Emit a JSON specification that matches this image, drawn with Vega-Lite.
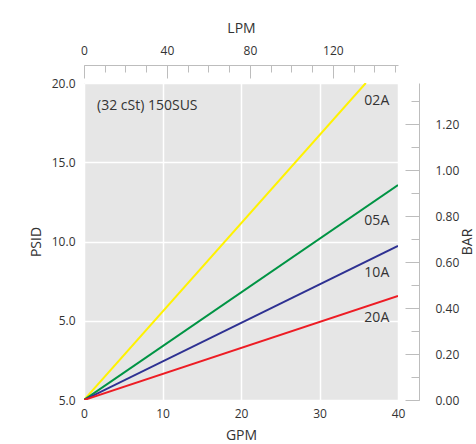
{
  "$schema": "https://vega.github.io/schema/vega-lite/v6.json",
  "width": 314,
  "height": 317,
  "autosize": "none",
  "padding": {"left": 84, "top": 83, "right": 78, "bottom": 44},
  "config": {
    "font": "Open Sans",
    "view": {"fill": "#e6e6e6", "stroke": null},
    "axis": {
      "labelColor": "#333333",
      "titleColor": "#333333",
      "labelFont": "Open Sans",
      "titleFont": "Open Sans",
      "labelFontSize": 12,
      "titleFontSize": 14,
      "titleFontWeight": "normal",
      "domainColor": "#bdbdbd",
      "tickColor": "#bdbdbd",
      "gridColor": "#ffffff",
      "gridWidth": 1.5,
      "labelFlush": false
    }
  },
  "resolve": {"scale": {"x": "independent", "y": "independent"}},
  "layer": [
    {
      "encoding": {
        "x": {
          "field": "gpm",
          "type": "quantitative",
          "scale": {"domain": [0, 40], "nice": false},
          "axis": {
            "title": "GPM",
            "values": [0, 10, 20, 30, 40],
            "domain": false,
            "ticks": false,
            "grid": true,
            "labelPadding": 8,
            "titlePadding": 9
          }
        },
        "y": {
          "field": "psid",
          "type": "quantitative",
          "scale": {"domain": [0, 20], "nice": false},
          "axis": {
            "title": "PSID",
            "values": [0, 5, 10, 15, 20],
            "domain": false,
            "ticks": false,
            "grid": true,
            "labelPadding": 9,
            "titlePadding": 8,
            "labelExpr": "datum.value == 0 ? '5.0' : format(datum.value, '.1f')"
          }
        }
      },
      "layer": [
        {
          "data": {
            "values": [
              {"series": "02A", "gpm": 0, "psid": 0},
              {"series": "02A", "gpm": 35.9, "psid": 20},
              {"series": "05A", "gpm": 0, "psid": 0},
              {"series": "05A", "gpm": 40, "psid": 13.56},
              {"series": "10A", "gpm": 0, "psid": 0},
              {"series": "10A", "gpm": 40, "psid": 9.72},
              {"series": "20A", "gpm": 0, "psid": 0},
              {"series": "20A", "gpm": 40, "psid": 6.56}
            ]
          },
          "mark": {"type": "line", "strokeWidth": 2, "clip": true},
          "encoding": {
            "color": {
              "field": "series",
              "type": "nominal",
              "scale": {
                "domain": ["02A", "05A", "10A", "20A"],
                "range": ["#fff200", "#009444", "#2e3192", "#ed1c24"]
              },
              "legend": null
            }
          }
        },
        {
          "data": {
            "values": [
              {"label": "02A", "gpm": 37.3, "psid": 18.88},
              {"label": "05A", "gpm": 37.3, "psid": 11.29},
              {"label": "10A", "gpm": 37.3, "psid": 8.01},
              {"label": "20A", "gpm": 37.3, "psid": 5.17}
            ]
          },
          "mark": {"type": "text", "fontSize": 14, "color": "#333333", "align": "center", "baseline": "middle", "font": "Open Sans"},
          "encoding": {"text": {"field": "label"}}
        },
        {
          "data": {"values": [{"label": "(32 cSt) 150SUS", "gpm": 1.66, "psid": 18.55}]},
          "mark": {"type": "text", "fontSize": 14, "color": "#333333", "align": "left", "baseline": "middle", "font": "Open Sans"},
          "encoding": {"text": {"field": "label"}}
        }
      ]
    },
    {
      "data": {"values": [{"lpm": 0}, {"lpm": 151.4}]},
      "mark": {"type": "point", "opacity": 0},
      "encoding": {
        "x": {
          "field": "lpm",
          "type": "quantitative",
          "scale": {"domain": [0, 151.4], "nice": false},
          "axis": {
            "orient": "top",
            "offset": 18,
            "values": [0, 10, 20, 30, 40, 50, 60, 70, 80, 90, 100, 110, 120, 130, 140, 150],
            "labels": false,
            "tickSize": -7,
            "title": null,
            "grid": false,
            "domain": true
          }
        }
      }
    },
    {
      "data": {"values": [{"lpm": 0}, {"lpm": 151.4}]},
      "mark": {"type": "point", "opacity": 0},
      "encoding": {
        "x": {
          "field": "lpm",
          "type": "quantitative",
          "scale": {"domain": [0, 151.4], "nice": false},
          "axis": {
            "orient": "top",
            "offset": 18,
            "values": [0, 40, 80, 120],
            "tickSize": -13,
            "labelPadding": 21,
            "title": "LPM",
            "titlePadding": 9,
            "grid": false,
            "domain": false
          }
        }
      }
    },
    {
      "data": {"values": [{"bar": 0}, {"bar": 1.379}]},
      "mark": {"type": "point", "opacity": 0},
      "encoding": {
        "y": {
          "field": "bar",
          "type": "quantitative",
          "scale": {"domain": [0, 1.379], "nice": false},
          "axis": {
            "orient": "right",
            "offset": 21,
            "values": [0, 0.1, 0.2, 0.3, 0.4, 0.5, 0.6, 0.7, 0.8, 0.9, 1.0, 1.1, 1.2, 1.3],
            "labels": false,
            "tickSize": -8,
            "title": null,
            "grid": false,
            "domain": true
          }
        }
      }
    },
    {
      "data": {"values": [{"bar": 0}, {"bar": 1.379}]},
      "mark": {"type": "point", "opacity": 0},
      "encoding": {
        "y": {
          "field": "bar",
          "type": "quantitative",
          "scale": {"domain": [0, 1.379], "nice": false},
          "axis": {
            "orient": "right",
            "offset": 21,
            "values": [0, 0.2, 0.4, 0.6, 0.8, 1.0, 1.2],
            "tickSize": -14,
            "labelPadding": 30,
            "format": ".2f",
            "title": "BAR",
            "titleAngle": 270,
            "titlePadding": 16,
            "grid": false,
            "domain": false
          }
        }
      }
    }
  ]
}
